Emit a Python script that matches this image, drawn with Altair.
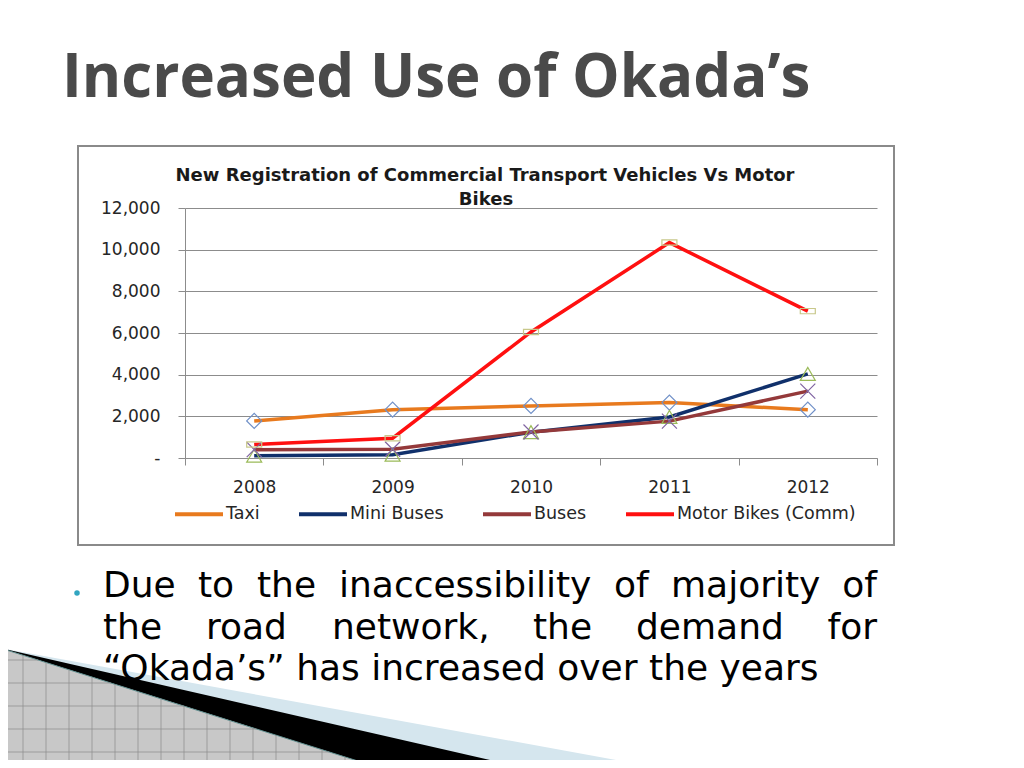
import altair as alt
import pandas as pd

# ---------------- data ----------------
years = ["2008", "2009", "2010", "2011", "2012"]
series_names = ["Taxi", "Mini Buses", "Buses", "Motor Bikes (Comm)"]
taxi = [1780, 2320, 2500, 2660, 2320]
mini_buses = [110, 160, 1240, 1970, 4040]
buses = [400, 420, 1250, 1770, 3210]
motor_bikes = [650, 950, 6050, 10340, 7050]
y_ticks = [0, 2000, 4000, 6000, 8000, 10000, 12000]

slide_title = "Increased Use of Okada\u2019s"
chart_title_1 = "New Registration of Commercial Transport  Vehicles Vs Motor"
chart_title_2 = "Bikes"
body_line1 = ["Due", "to", "the", "inaccessibility", "of", "majority", "of"]
body_line2 = ["the", "road", "network,", "the", "demand", "for"]
body_line3 = "\u201cOkada\u2019s\u201d has increased over the years"

# ---------------- styles / layout ----------------
line_colors = ["#E87A1E", "#10306B", "#94393A", "#FF1010"]
marker_colors = ["#7090C8", "#9BBB59", "#8064A2", "#C8C88A"]
marker_shapes = ["diamond", "triangle-up", "M-1,-1L1,1M-1,1L1,-1", "M-1,-0.35H1V0.35H-1Z"]

W, H = 692, 250          # plot area
OX, OY = 185, 208        # page position of plot origin
PAD = {"left": OX - 8, "top": OY - 8, "right": 1008 - (OX - 8) - W, "bottom": 752 - (OY - 8) - H}

AX_COL = "#8C8C8C"
TXT_COL = "#262626"
CH_FONT = "DejaVu Sans"

marker_keys = [n + " marker" for n in series_names]
rows = []
for name, mk, vals in zip(series_names, marker_keys, [taxi, mini_buses, buses, motor_bikes]):
    for yr, v in zip(years, vals):
        rows.append({"year": yr, "series": name, "marker": mk, "value": v})
df = pd.DataFrame(rows)

x_enc = alt.X(
    "year:O",
    bandPosition=0.5,
    scale=alt.Scale(type="band", paddingInner=0, paddingOuter=0),
    axis=alt.Axis(
        title=None, labelAngle=0, tickBand="extent", grid=False,
        domainColor=AX_COL, tickColor=AX_COL, tickSize=7,
        labelFont=CH_FONT, labelFontSize=17, labelColor=TXT_COL, labelPadding=14,
    ),
)
y_enc = alt.Y(
    "value:Q",
    scale=alt.Scale(domain=[0, 12000], nice=False),
    axis=alt.Axis(
        title=None, values=y_ticks, grid=True, gridColor=AX_COL, gridWidth=1,
        domainColor=AX_COL, tickColor=AX_COL, tickSize=7,
        labelExpr="datum.value == 0 ? '-\u00a0\u00a0\u00a0' : format(datum.value, ',')",
        labelFont=CH_FONT, labelFontSize=17, labelColor=TXT_COL, labelPadding=18,
    ),
)

lines = alt.Chart(df).mark_line(strokeWidth=3.5).encode(
    x=x_enc,
    y=y_enc,
    color=alt.Color(
        "series:N",
        scale=alt.Scale(domain=series_names, range=line_colors),
        sort=series_names,
        legend=alt.Legend(
            title=None, orient="none", legendX=-12, legendY=280, direction="horizontal",
            symbolType="stroke", symbolSize=2304, symbolStrokeWidth=4,
            labelFont=CH_FONT, labelFontSize=17.5, labelColor=TXT_COL, labelLimit=0,
            columnPadding=31, labelOffset=1, padding=0,
        ),
    ),
    order=alt.Order("year:O"),
)

points = alt.Chart(df).mark_point(filled=False, size=225, strokeWidth=1.2, opacity=1).encode(
    x=x_enc,
    y=y_enc,
    stroke=alt.Stroke("marker:N", scale=alt.Scale(domain=marker_keys, range=marker_colors), legend=None),
    shape=alt.Shape("marker:N", scale=alt.Scale(domain=marker_keys, range=marker_shapes), legend=None),
)


def text_at(text, px, py, size, font=CH_FONT, weight="normal", color=TXT_COL, align="left"):
    return alt.Chart(pd.DataFrame({"t": [text]})).mark_text(
        font=font, fontSize=size, fontWeight=weight, color=color, align=align, baseline="alphabetic"
    ).encode(text="t:N", x=alt.value(px - OX), y=alt.value(py - OY))


def shape_at(path, color, stroke=None, sw=0):
    kw = dict(shape=path, size=4, filled=True, fill=color, opacity=1, strokeWidth=sw)
    if stroke:
        kw["stroke"] = stroke
    return alt.Chart(pd.DataFrame({"d": [0]})).mark_point(**kw).encode(
        x=alt.value(-OX), y=alt.value(-OY)
    )


# decoration (bottom-left ribbon), page pixel paths
blue = shape_at("M0,648L660,768L0,768Z", "#D5E6EE")
black = shape_at("M0,648L525,768L380,768Z", "#000000")
gray = shape_at("M0,648L380,768L0,768Z", "#C8C8C8", stroke="#5E8C8C", sw=1)
grid_parts = []
for gx in range(23, 380, 23):
    top = 648 + gx * 120 / 380
    grid_parts.append(f"M{gx},{top:.1f}V768")
for gy in range(660, 768, 23):
    right = (gy - 648) * 380 / 120
    grid_parts.append(f"M0,{gy}H{right:.1f}")
grid = alt.Chart(pd.DataFrame({"d": [0]})).mark_point(
    shape="".join(grid_parts), size=4, filled=False, stroke="#8A8A8A", strokeWidth=0.7, opacity=1
).encode(x=alt.value(-OX), y=alt.value(-OY))

box = alt.Chart(pd.DataFrame({"d": [0]})).mark_rect(
    fill="white", fillOpacity=0, stroke="#8A8A8A", strokeWidth=2
).encode(x=alt.value(78 - OX), x2=alt.value(894 - OX), y=alt.value(146 - OY), y2=alt.value(545 - OY))

texts = [
    text_at(slide_title, 62, 97, 60, font="Open Sans", weight="bold", color="#4A4A4A"),
    text_at(chart_title_1, 485, 181, 18, weight="bold", color="#1A1A1A", align="center"),
    text_at(chart_title_2, 486, 205, 18, weight="bold", color="#1A1A1A", align="center"),
]
BODY_FONT, BODY_SIZE = "DejaVu Sans", 36
line1_x = [103, 198, 257, 339, 614, 671, 877]
line2_x = [103, 206, 332, 533, 636, 877]
for i, (w, px) in enumerate(zip(body_line1, line1_x)):
    texts.append(text_at(w, px, 597, BODY_SIZE, font=BODY_FONT, color="#000000",
                         align="right" if i == len(body_line1) - 1 else "left"))
for i, (w, px) in enumerate(zip(body_line2, line2_x)):
    texts.append(text_at(w, px, 639, BODY_SIZE, font=BODY_FONT, color="#000000",
                         align="right" if i == len(body_line2) - 1 else "left"))
texts.append(text_at(body_line3, 103, 680, BODY_SIZE, font=BODY_FONT, color="#000000"))

bullet = alt.Chart(pd.DataFrame({"d": [0]})).mark_point(
    shape="circle", size=30, filled=True, fill="#31A5C0", opacity=1, strokeWidth=0
).encode(x=alt.value(77 - OX), y=alt.value(593 - OY))

chart = alt.layer(
    blue, black, gray, grid, box, lines, points, bullet, *texts
).properties(
    width=W, height=H, padding=PAD, autosize=alt.AutoSizeParams(type="none"),
    background="white",
).configure_view(stroke=None)

chart.save("out.html", embed_options={"renderer": "svg", "actions": False})
